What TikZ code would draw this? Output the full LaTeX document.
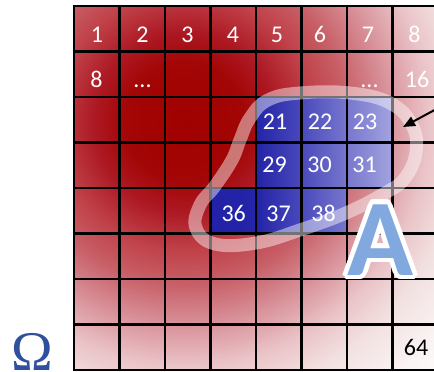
\documentclass[tikz,border=0pt]{standalone}
\usepackage{fontspec}
\newfontfamily\numfont{Carlito}
\newfontfamily\omegafont{Liberation Serif}
\usetikzlibrary{arrows.meta}
\definecolor{rA}{HTML}{A00000}
\definecolor{rB}{HTML}{A30606}
\definecolor{rC}{HTML}{AC1822}
\definecolor{rD}{HTML}{C04048}
\definecolor{rE}{HTML}{C86068}
\definecolor{rF}{HTML}{D89098}
\definecolor{rG}{HTML}{EAC4C8}
\definecolor{rH}{HTML}{F2E0E0}
\definecolor{rI}{HTML}{FAF4F4}
\definecolor{rJ}{HTML}{FFFFFF}
\definecolor{bA}{HTML}{2222A8}
\definecolor{bB}{HTML}{2424A8}
\definecolor{bC}{HTML}{4A4ABC}
\definecolor{bD}{HTML}{7878CE}
\definecolor{bE}{HTML}{A4A4E0}
\definecolor{letterblue}{HTML}{82A8E0}
\definecolor{omegablue}{HTML}{2F4F9F}
\tikzset{
  gridline/.style={line width=2.6pt, black},
  num/.style={font=\numfont\fontsize{24}{24}\selectfont, text=white, inner sep=0pt, anchor=base},
  loopband/.style={line width=13pt, white, opacity=0.45},
  bigletter/.style={font=\numfont\bfseries\fontsize{109}{109}\selectfont, inner sep=0pt, anchor=base},
  pointer/.style={line width=2pt, black, -{Triangle[length=12pt,width=10pt]}}
}
\begin{document}
\begin{tikzpicture}[x=1pt,y=-1pt]
\useasboundingbox (0,0) rectangle (434,372);
% red background: concentric rings
\begin{scope}
  \clip (74,6) rectangle (438,370);
  \foreach \da/\db/\ca/\cb in {330/380/rI/rJ, 280/330/rH/rI, 245/280/rG/rH, 203/245/rF/rG,
     164/203/rE/rF, 128/164/rD/rE, 90/128/rC/rD, 60/90/rB/rC, 0/60/rA/rB} {
    \foreach \t in {100,95,...,5} {
      \pgfmathsetmacro\rr{\da+(\db-\da)*\t/100}
      \fill[color=\cb!\t!\ca] (185,122) circle[radius=\rr];
    }
  }
\end{scope}
% blue cells
\foreach \xa/\xb/\ya/\ca/\cb in {257/302.5/97/bB/bC, 302.5/348/97/bC/bD, 348/393.5/97/bD/bE,
  257/302.5/142.5/bB/bC, 302.5/348/142.5/bC/bD, 348/393.5/142.5/bD/bE,
  211.5/257/188/bA/bB, 257/302.5/188/bB/bC, 302.5/348/188/bC/bD}
  \shade[left color=\ca, right color=\cb] (\xa,\ya) rectangle (\xb,\ya+45.5);
% grid
\foreach \i in {0,...,8} {
  \draw[gridline] (74+45.5*\i,6) -- (74+45.5*\i,370);
  \draw[gridline] (72.7,6+45.5*\i) -- (440,6+45.5*\i);
}
% loop
\draw[loopband] plot[smooth cycle, tension=0.7] coordinates {
  (300,93) (350,93) (390,103) (412,125) (416,152) (405,178) (385,193)
  (346,213) (300,230) (256,243) (215,244) (196,228) (200,205) (215,186)
  (232,160) (240,140) (250,118) (268,100)};
% numbers
\node[num] (c1) at (97,42) {1};
\node[num] (c2) at (142.5,42) {2};
\node[num] (c3) at (187.5,42) {3};
\node[num] (c4) at (233,42) {4};
\node[num] (c5) at (277,42) {5};
\node[num] (c6) at (320,42) {6};
\node[num] (c7) at (368,42) {7};
\node[num] (c8) at (414.5,42) {8};
\node[num] (d8) at (96.5,87) {8};
\node[num] (dd1) at (142.5,87) {...};
\node[num] (dd2) at (369.5,87) {...};
\node[num] (d16) at (417,87) {16};
\node[num] (e21) at (275,129) {21};
\node[num] (e22) at (320,129) {22};
\node[num] (e23) at (365,129) {23};
\node[num] (f29) at (274.5,172) {29};
\node[num] (f30) at (319.5,172) {30};
\node[num] (f31) at (364.5,172) {31};
\node[num] (g36) at (233.7,221) {36};
\node[num] (g37) at (278.5,221) {37};
\node[num] (g38) at (323.5,221) {38};
\node[num, text=black] (h64) at (416,355) {64};
% big letter A with white outline
\foreach \a in {0,22.5,...,337.5} {
  \node[bigletter, text=white, shift={(\a:4.8pt)}] at (380.5,275) {A};
  \node[bigletter, text=white, shift={(\a:2.6pt)}] at (380.5,275) {A};
}
\node[bigletter, text=letterblue] (bigA) at (380.5,275) {A};
% arrow
\coordinate (arrowtail) at (442,106);
\coordinate (arrowtip) at (403,127);
\draw[pointer] (arrowtail) -- (arrowtip);
% Omega
\node[font=\omegafont\fontsize{56}{56}\selectfont, text=omegablue, inner sep=0pt, anchor=base] (omega) at (32.5,370) {Ω};
\end{tikzpicture}
\end{document}
